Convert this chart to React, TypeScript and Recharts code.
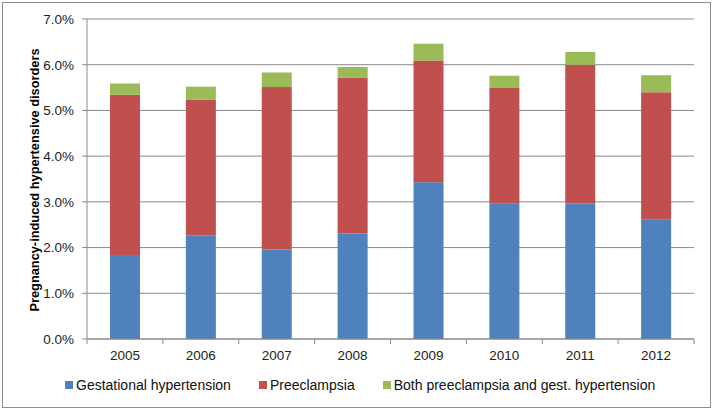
import React from "react";
import { BarChart, Bar, XAxis, YAxis, CartesianGrid } from "recharts";

const years = ["2005", "2006", "2007", "2008", "2009", "2010", "2011", "2012"];
const gestational = [1.84, 2.27, 1.96, 2.31, 3.43, 2.96, 2.97, 2.61];
const preeclampsia = [3.5, 2.96, 3.55, 3.41, 2.66, 2.53, 3.03, 2.79];
const both = [0.25, 0.29, 0.32, 0.23, 0.37, 0.27, 0.28, 0.37];
const yTicks = [0, 1, 2, 3, 4, 5, 6, 7];

const series = [
  { key: "gestational", name: "Gestational hypertension", color: "#4F81BD" },
  { key: "preeclampsia", name: "Preeclampsia", color: "#C0504D" },
  { key: "both", name: "Both preeclampsia and gest. hypertension", color: "#9BBB59" },
];

const data = years.map((year, i) => ({
  year,
  gestational: gestational[i],
  preeclampsia: preeclampsia[i],
  both: both[i],
}));

const W = 714;
const H = 411;
const MARGIN = { top: 19, right: 20, bottom: 42, left: 0 };
const Y_WIDTH = 87;
const X_HEIGHT = 30;
const GRID = "#8a8a8a";
const FONT = "'Liberation Sans', Arial, sans-serif";

const band = (W - MARGIN.left - MARGIN.right - Y_WIDTH) / years.length;

function YearTick(props: any) {
  const { x, y, payload, index } = props;
  return (
    <g>
      <line x1={x - band / 2} x2={x - band / 2} y1={y} y2={y + 5} stroke={GRID} />
      {index === years.length - 1 && (
        <line x1={x + band / 2} x2={x + band / 2} y1={y} y2={y + 5} stroke={GRID} />
      )}
      <text x={x} y={y + 21} textAnchor="middle" fontSize={13.5} fill="#222" fontFamily={FONT}>
        {payload.value}
      </text>
    </g>
  );
}

function YLabel() {
  const cx = 34;
  const cy = 180;
  return (
    <text
      x={cx}
      y={cy}
      transform={`rotate(-90 ${cx} ${cy})`}
      textAnchor="middle"
      dominantBaseline="central"
      fontSize={12.8}
      fontWeight="bold"
      fill="#000"
      fontFamily={FONT}
    >
      Pregnancy-induced hypertensive disorders
    </text>
  );
}

export default function App() {
  return (
    <div style={{ position: "absolute", left: 0, top: 0, width: W, height: H, background: "#fff" }}>
      <div
        style={{
          position: "absolute",
          left: 2,
          top: 2,
          width: 709,
          height: 406,
          border: "1.5px solid #8c8c8c",
          boxSizing: "border-box",
        }}
      />
      <div style={{ position: "absolute", left: 0, top: 0 }}>
        <BarChart width={W} height={H} data={data} margin={MARGIN}>
          <CartesianGrid vertical={false} stroke={GRID} strokeWidth={1} />
          <XAxis
            dataKey="year"
            height={X_HEIGHT}
            axisLine={{ stroke: GRID }}
            tickLine={false}
            tickSize={0}
            tickMargin={0}
            tick={<YearTick />}
            interval={0}
          />
          <YAxis
            width={Y_WIDTH}
            domain={[0, 7]}
            ticks={yTicks}
            tickFormatter={(v: number) => `${v.toFixed(1)}%`}
            axisLine={{ stroke: GRID }}
            tickLine={{ stroke: GRID }}
            tickSize={5}
            tickMargin={8}
            tick={{ fontSize: 13.5, fill: "#222", fontFamily: FONT }}
            label={<YLabel />}
          />
          <YAxis
            yAxisId="r"
            orientation="right"
            width={0}
            domain={[0, 7]}
            tick={false}
            tickLine={false}
            axisLine={{ stroke: GRID }}
          />
          {series.map((s) => (
            <Bar
              key={s.key}
              dataKey={s.key}
              name={s.name}
              stackId="a"
              fill={s.color}
              barSize={30}
              isAnimationActive={false}
            />
          ))}
        </BarChart>
      </div>
      <div
        style={{
          position: "absolute",
          left: 65,
          top: 377,
          display: "flex",
          alignItems: "center",
          fontFamily: FONT,
          fontSize: 14,
          color: "#111",
          whiteSpace: "nowrap",
        }}
      >
        {series.map((s, i) => (
          <div
            key={s.key}
            style={{ display: "flex", alignItems: "center", marginRight: i < series.length - 1 ? 28 : 0 }}
          >
            <span style={{ width: 8, height: 8, background: s.color, display: "inline-block", marginRight: 3 }} />
            <span>{s.name}</span>
          </div>
        ))}
      </div>
    </div>
  );
}
